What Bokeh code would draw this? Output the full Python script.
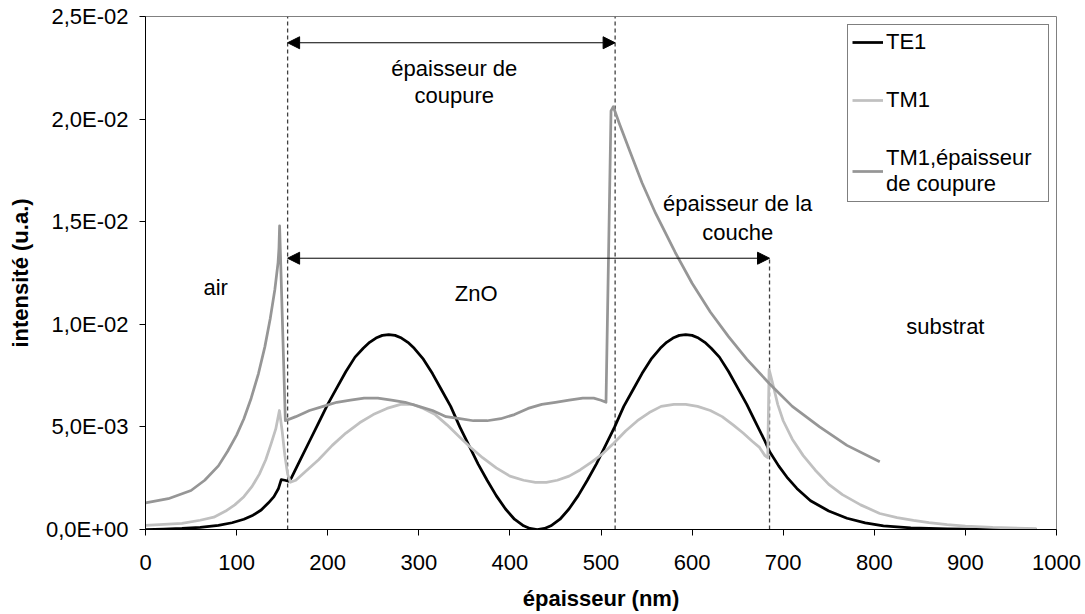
from bokeh.plotting import figure
from bokeh.models import (Range1d, FixedTicker, Arrow, NormalHead, Legend, LegendItem,
                          CustomJSTickFormatter)
from bokeh.core.properties import value
from bokeh.embed import file_html
from bokeh.resources import INLINE

FONT = "Liberation Sans"

# ---------------- data: (épaisseur nm, intensité) ----------------
te1_points = [
    (0, 0.0), (20, 0.00002), (40, 0.00005), (60, 0.0001), (80, 0.0002), (95, 0.00033),
    (108, 0.0005), (118, 0.0007), (127, 0.00095), (135, 0.0013), (141, 0.0016),
    (146, 0.0020), (149, 0.00243), (153, 0.0024), (157, 0.00235), (160, 0.0025),
    (170, 0.0034), (180, 0.0043), (190, 0.0052), (200, 0.0061), (210, 0.0069),
    (220, 0.0077), (230, 0.0084), (239, 0.00883), (246, 0.00912), (253, 0.00933),
    (260, 0.00946), (267, 0.0095), (274, 0.00946), (281, 0.00933), (288, 0.00912),
    (295, 0.00883), (305, 0.0083), (315, 0.0076), (325, 0.0068), (335, 0.0060),
    (345, 0.0050), (355, 0.0041), (365, 0.0032), (375, 0.0024), (385, 0.00165),
    (395, 0.00101), (405, 0.0005), (415, 0.00018), (422, 0.00005), (430, 0.0),
    (438, 0.00005), (445, 0.00018), (455, 0.0005), (465, 0.00101), (475, 0.00165),
    (485, 0.0024), (495, 0.0032), (505, 0.0041), (515, 0.0050), (525, 0.0060),
    (535, 0.0068), (545, 0.0076), (555, 0.0083), (565, 0.00883), (572, 0.00912),
    (579, 0.00933), (586, 0.00946), (593, 0.0095), (600, 0.00946), (607, 0.00933),
    (614, 0.00912), (621, 0.00883), (630, 0.0084), (640, 0.0077), (650, 0.0069),
    (660, 0.0061), (670, 0.0052), (680, 0.0043), (685, 0.0038), (695, 0.0031),
    (705, 0.0025), (715, 0.0020), (730, 0.0014), (750, 0.0009), (770, 0.00055),
    (790, 0.00032), (810, 0.00018), (840, 0.00008), (880, 0.00003), (930, 0.00001),
    (978, 0.0)]

tm1_points = [
    (0, 0.0002), (20, 0.00025), (40, 0.0003), (60, 0.00045), (75, 0.0006), (88, 0.0009),
    (98, 0.0012), (108, 0.0016), (117, 0.0021), (125, 0.0027), (132, 0.0034),
    (138, 0.0042), (143, 0.0049), (147, 0.0058), (150, 0.0048), (153, 0.0036),
    (156, 0.0027), (159, 0.0023), (165, 0.0024), (175, 0.0028), (190, 0.0034),
    (205, 0.0041), (220, 0.0047), (235, 0.0052), (250, 0.0056), (265, 0.0059),
    (280, 0.0061), (293, 0.0061), (305, 0.0059), (318, 0.0056), (331, 0.0051),
    (345, 0.0045), (357, 0.0040), (370, 0.0035), (385, 0.0030), (400, 0.0026),
    (415, 0.0024), (428, 0.0023), (440, 0.0023), (452, 0.0024), (465, 0.0026),
    (477, 0.0029), (490, 0.0033), (502, 0.0037), (514, 0.0042), (527, 0.0048),
    (540, 0.0053), (553, 0.0057), (566, 0.0060), (580, 0.0061), (593, 0.0061),
    (606, 0.0060), (620, 0.0058), (633, 0.0055), (645, 0.0051), (656, 0.0047),
    (666, 0.0043), (674, 0.0040), (680, 0.0036), (683, 0.0035), (684.5, 0.0078),
    (688, 0.0072), (694, 0.0061), (700, 0.0053), (710, 0.0044), (722, 0.0036),
    (735, 0.0029), (750, 0.0022), (765, 0.0017), (785, 0.0012), (806, 0.00078),
    (825, 0.00058), (843, 0.00044), (860, 0.00033), (880, 0.00024), (900, 0.00017),
    (930, 0.0001), (978, 0.00004)]

cut_points = [
    (0, 0.0013), (25, 0.0015), (50, 0.0019), (65, 0.0024), (80, 0.0031), (90, 0.0038),
    (100, 0.0046), (108, 0.0054), (116, 0.0064), (124, 0.0076), (131, 0.0089),
    (137, 0.0103), (142, 0.0117), (145.5, 0.0130), (146.5, 0.0137), (147.2, 0.0148),
    (153.5, 0.0053), (165, 0.0055), (180, 0.0058), (195, 0.0060), (210, 0.0062),
    (225, 0.0063), (240, 0.0064), (255, 0.0064), (270, 0.0063), (285, 0.0062),
    (300, 0.0060), (315, 0.0058), (330, 0.0055), (345, 0.0054), (360, 0.0053),
    (375, 0.0053), (390, 0.0054), (405, 0.0056), (420, 0.0059), (435, 0.0061),
    (450, 0.0062), (465, 0.0063), (480, 0.0064), (492, 0.0064), (500, 0.0063),
    (505.5, 0.0062), (511, 0.0204), (513.5, 0.0206), (520, 0.0198), (532, 0.0184),
    (545, 0.0169), (560, 0.0154), (581.5, 0.0135), (600, 0.0120), (620, 0.0106),
    (640, 0.0094), (660, 0.0083), (685, 0.0071), (710, 0.0060), (740, 0.0050),
    (770, 0.0041), (806, 0.0033)]

te1_x = [a for a, b in te1_points]
te1_y = [b for a, b in te1_points]
tm1_x = [a for a, b in tm1_points]
tm1_y = [b for a, b in tm1_points]
cut_x = [a for a, b in cut_points]
cut_y = [b for a, b in cut_points]

series_names = ["TE1", "TM1", "TM1,épaisseur\nde coupure"]
series_colors = ["#000000", "#c0c0c0", "#969696"]

x_ticks = [0, 100, 200, 300, 400, 500, 600, 700, 800, 900, 1000]
y_ticks = [0.0, 0.005, 0.01, 0.015, 0.02, 0.025]
y_tick_labels = ["0,0E+00", "5,0E-03", "1,0E-02", "1,5E-02", "2,0E-02", "2,5E-02"]

# interfaces (dashed lines) and dimension arrows
interface_x = [156, 515.5, 685]
interface_top = [0.025, 0.025, 0.01322]
arrow_y = [0.02372, 0.01322]
arrow_x0 = [156, 156]
arrow_x1 = [515.5, 685]

ann_text = ["épaisseur de", "coupure", "épaisseur de la", "couche", "air", "ZnO", "substrat"]
ann_x = [339, 339, 650, 650, 77, 363, 878]
ann_y = [0.02249, 0.02117, 0.01587, 0.01446, 0.01178, 0.01149, 0.0099]

# ---------------- figure ----------------
p = figure(width=1085, height=614, output_backend="svg", toolbar_location=None,
           x_range=Range1d(0, 1000), y_range=Range1d(0, 0.025),
           min_border_left=145, min_border_right=29, min_border_top=16, min_border_bottom=85)
p.grid.visible = False
p.background_fill_color = "white"
p.border_fill_color = "white"
p.outline_line_color = "#808080"
p.outline_line_width = 1

p.xaxis.ticker = FixedTicker(ticks=x_ticks)
p.yaxis.ticker = FixedTicker(ticks=y_ticks)
p.yaxis.formatter = CustomJSTickFormatter(
    args=dict(labels=y_tick_labels, step=y_ticks[1]),
    code="const i = Math.round(tick / step); return (i >= 0 && i < labels.length) ? labels[i] : '';")

for ax in (p.xaxis[0], p.yaxis[0]):
    ax.axis_line_color = "#000000"
    ax.axis_line_width = 1
    ax.major_tick_line_color = "#000000"
    ax.major_tick_out = 6
    ax.major_tick_in = 0
    ax.minor_tick_out = 0
    ax.minor_tick_in = 0
    ax.major_label_text_font = FONT
    ax.major_label_text_font_size = "22px"
    ax.major_label_text_color = "#000000"
    ax.axis_label_text_font = FONT
    ax.axis_label_text_font_size = "22px"
    ax.axis_label_text_font_style = "bold"
    ax.axis_label_text_color = "#000000"

p.xaxis.axis_label = "épaisseur (nm)"
p.yaxis.axis_label = "intensité (u.a.)"
p.xaxis.major_label_standoff = 19
p.xaxis.axis_label_standoff = 13
p.yaxis.major_label_standoff = 11
p.yaxis.axis_label_standoff = 10

# dashed interface lines
p.segment(x0=interface_x, y0=[0] * len(interface_x), x1=interface_x, y1=interface_top,
          line_color="#404040", line_width=1.3, line_dash="4 3")

# arrows
for x0, x1, y in zip(arrow_x0, arrow_x1, arrow_y):
    p.add_layout(Arrow(
        start=NormalHead(size=12, fill_color="black", line_color="black"),
        end=NormalHead(size=12, fill_color="black", line_color="black"),
        x_start=x0, y_start=y, x_end=x1, y_end=y, line_color="black", line_width=1))

# curves
r_te = p.line(te1_x, te1_y, line_color=series_colors[0], line_width=2.75, line_join="round")
r_tm = p.line(tm1_x, tm1_y, line_color=series_colors[1], line_width=2.75, line_join="round")
r_cut = p.line(cut_x, cut_y, line_color=series_colors[2], line_width=2.75, line_join="round")

# annotations
p.text(x=ann_x, y=ann_y, text=ann_text, text_font=value(FONT), text_font_size="22px",
       text_align="center", text_baseline="middle", text_color="#000000")

legend = Legend(items=[LegendItem(label=series_names[0], renderers=[r_te]),
                       LegendItem(label=series_names[1], renderers=[r_tm]),
                       LegendItem(label=series_names[2], renderers=[r_cut])],
                location=(702, 327))
legend.border_line_color = "black"
legend.border_line_width = 1
legend.background_fill_color = "white"
legend.background_fill_alpha = 1
legend.label_text_font = FONT
legend.label_text_font_size = "22px"
legend.label_text_color = "#000000"
legend.label_text_line_height = 1.0
legend.glyph_width = 31
legend.glyph_height = 22
legend.label_height = 22
legend.label_width = 158
legend.label_standoff = 3
legend.spacing = 32
legend.padding = 4
legend.margin = 0
p.add_layout(legend)

open("out.html", "w").write(file_html(p, INLINE))
